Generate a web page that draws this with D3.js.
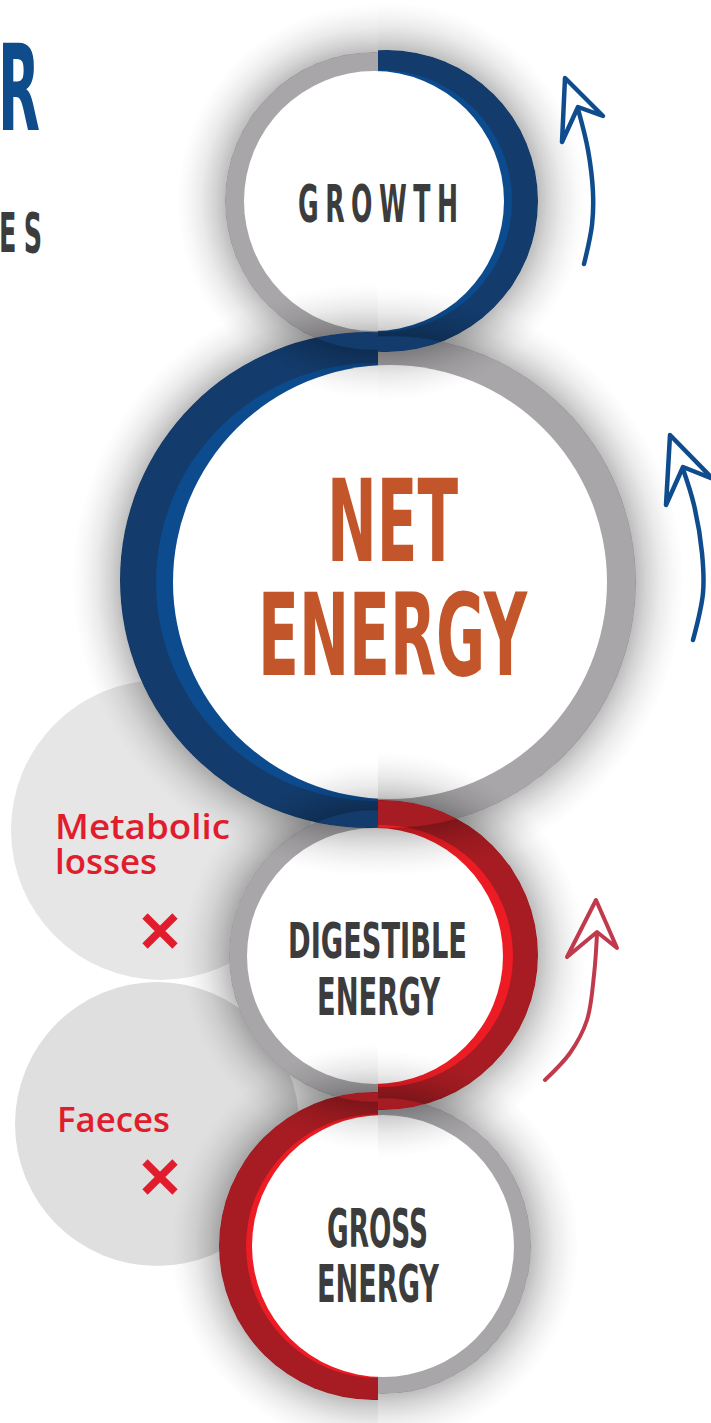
<!DOCTYPE html>
<html>
<head>
<meta charset="utf-8">
<script src="https://cdn.jsdelivr.net/npm/d3@7/dist/d3.min.js"></script>
<style>
  html, body { margin: 0; padding: 0; background: #fff; }
</style>
</head>
<body>
<div id="content"></div>
<script>
// stages from top to bottom
var stageLines = [["GROWTH"], ["NET", "ENERGY"], ["DIGESTIBLE", "ENERGY"], ["GROSS", "ENERGY"]];
var stageFlow = ["blue", "blue", "red", "red"];
var lossLines = [["Metabolic", "losses"], ["Faeces"]];
var titleBits = ["R", "ES"];

var width = 711, height = 1423, split = 378;
var condensed = "'Liberation Sans Narrow', 'DejaVu Sans Condensed', 'Roboto Condensed', sans-serif";

// geometry of each ring: white disc, grey ring, coloured crescent, light inner edge
var rings = [
  { white: [374, 201, 130], grey: [374, 201, 149], band: [387, 201, 151], light: [381, 201, 131], side: 'right' },
  { white: [390, 582, 217], grey: [390, 582, 246], band: [368, 580, 248], light: [375, 582, 219], side: 'left' },
  { white: [375, 956, 128], grey: [375, 956, 146], band: [383, 955, 155], light: [382, 956, 131], side: 'right' },
  { white: [383, 1246, 131], grey: [383, 1246, 148], band: [373, 1246, 154], light: [378, 1246, 132], side: 'left' }
];
var labelBoxes = [
  [{ x: 298, y: 222, w: 160, cap: 37, ls: 12, fill: '#3c3c3d' }],
  [{ x: 327, y: 561, w: 131, cap: 82, fill: '#c3552a' }, { x: 258, y: 675, w: 269, cap: 82, fill: '#c3552a' }],
  [{ x: 288, y: 958, w: 179, cap: 36, fill: '#3c3c3d' }, { x: 317, y: 1015, w: 123, cap: 37, fill: '#3c3c3d' }],
  [{ x: 327, y: 1247, w: 101, cap: 38, fill: '#3c3c3d' }, { x: 317, y: 1302, w: 122, cap: 37, fill: '#3c3c3d' }]
];
var colours = {
  blue: { dark: '#133c6d', light: '#0c4b8e', arrow: '#0f4c8d' },
  red: { dark: '#a61c22', light: '#ed1c24', arrow: '#c03a4b' }
};
var lossDiscs = [[161, 830, 150, '#e6e6e7'], [157, 1124, 142, '#dfdfe0']];
var lossBoxes = [
  [{ x: 55, y: 839, w: 175, cap: 24 }, { x: 55, y: 874, w: 102, cap: 24 }],
  [{ x: 57, y: 1132, w: 113, cap: 25 }]
];
var crosses = [[160, 931], [160, 1177]];

var arrows = [
  { flow: 'blue', head: [[565, 78], [603, 116], [578, 107], [562, 142]],
    shaft: [[578, 109], [588, 150], [593, 193], [592, 225], [584, 264]] },
  { flow: 'blue', head: [[670, 435], [713, 479], [683, 467], [666, 505]],
    shaft: [[683, 469], [694, 505], [702, 553], [703, 593], [693, 640]] },
  { flow: 'red', head: [[596, 900], [617, 948], [597, 932], [567, 957]],
    shaft: [[597, 934], [594, 975], [587, 1020], [570, 1053], [545, 1080]] }
];

var svg = d3.select('#content').append('svg').attr('width', width).attr('height', height)
  .style('display', 'block')
var defs = svg.append('defs')

defs.append('clipPath').attr('id', 'half-right').append('rect')
  .attr('x', split).attr('y', 0).attr('width', width - split).attr('height', height)
defs.append('clipPath').attr('id', 'half-left').append('rect')
  .attr('x', 0).attr('y', 0).attr('width', split).attr('height', height)

function circle(g, c, fill) {
  return g.append('circle').attr('cx', c[0]).attr('cy', c[1]).attr('r', c[2]).attr('fill', fill)
}

function fitText(g, str, o) {
  var ls = o.ls || 0
  var t = g.append('text').text(str)
    .attr('font-family', o.font).attr('font-weight', o.weight)
    .attr('font-size', o.cap / 0.716).attr('letter-spacing', ls)
    .attr('fill', o.fill)
  var w = t.node().getComputedTextLength() - ls
  t.attr('transform', 'translate(' + o.x + ',' + o.y + ') scale(' + (o.w / w) + ',1)')
  return t
}

var halfCount = 0
function halo(g, c, side) {
  var R = c[2], H = R + 48, id = 'halo' + (halfCount++)
  var grad = defs.append('radialGradient').attr('id', id)
    .attr('gradientUnits', 'userSpaceOnUse')
    .attr('cx', c[0]).attr('cy', c[1]).attr('r', H)
  var stops = [[R - 1, 0], [R + 0.5, 0.25], [R + 10, 0.17], [R + 24, 0.08], [R + 38, 0.025], [H, 0]]
  grad.selectAll('stop').data(stops).enter().append('stop')
    .attr('offset', function(d){ return d[0] / H })
    .attr('stop-color', '#000')
    .attr('stop-opacity', function(d){ return d[1] })
  g.append('circle').attr('cx', c[0]).attr('cy', c[1]).attr('r', H)
    .attr('fill', 'url(#' + id + ')')
    .attr('clip-path', 'url(#half-' + side + ')')
}

// loss discs behind everything
var back = svg.append('g')
lossDiscs.forEach(function(d){ circle(back, d, d[3]) })

// grey rings
var greys = svg.append('g')
rings.forEach(function(r){ circle(greys, r.grey, '#a8a6a9') })

// coloured crescents
var bands = svg.append('g')
rings.forEach(function(r, i){
  var c = colours[stageFlow[i]]
  var g = bands.append('g').attr('clip-path', 'url(#half-' + r.side + ')')
  circle(g, r.band, c.dark)
  circle(g, r.light, c.light)
})

// white discs
var whites = svg.append('g')
rings.forEach(function(r){ circle(whites, r.white, '#ffffff') })

// soft shadows laid over neighbours, one per half so they hug each edge
var halos = svg.append('g')
rings.forEach(function(r){
  var other = r.side === 'right' ? 'left' : 'right'
  halo(halos, r.band, r.side)
  halo(halos, r.grey, other)
})

// stage labels
var labels = svg.append('g')
stageLines.forEach(function(lines, i){
  lines.forEach(function(str, j){
    var b = labelBoxes[i][j]
    fitText(labels, str, { x: b.x, y: b.y, w: b.w, cap: b.cap, ls: b.ls, fill: b.fill,
      font: condensed, weight: 700 })
  })
})

// losses
lossLines.forEach(function(lines, i){
  lines.forEach(function(str, j){
    var b = lossBoxes[i][j]
    fitText(labels, str, { x: b.x, y: b.y, w: b.w, cap: b.cap, fill: '#e11d2d',
      font: "'Open Sans', 'Noto Sans', sans-serif", weight: 600 })
  })
})

var cross = svg.append('g').attr('stroke', '#e11d2d').attr('stroke-width', 7.5)
crosses.forEach(function(c){
  cross.append('path')
    .attr('d', 'M' + (c[0] - 15) + ',' + (c[1] - 15) + 'L' + (c[0] + 15) + ',' + (c[1] + 15) +
      'M' + (c[0] + 15) + ',' + (c[1] - 15) + 'L' + (c[0] - 15) + ',' + (c[1] + 15))
})

// title fragments cut by the left edge
fitText(labels, titleBits[0], { x: -2, y: 130, w: 42, cap: 85, fill: '#0e4c8c', font: condensed, weight: 700 })
fitText(labels, titleBits[1], { x: -1, y: 252, w: 43, cap: 39, ls: 14, fill: '#3c3c3d', font: condensed, weight: 700 })

// arrows
var shaftLine = d3.line().curve(d3.curveCatmullRom)
var headLine = d3.line().curve(d3.curveLinearClosed)
var arrowG = svg.append('g').attr('fill', 'none')
  .attr('stroke-linecap', 'round').attr('stroke-linejoin', 'round')
arrows.forEach(function(a){
  var col = colours[a.flow].arrow
  var sw = a.flow === 'blue' ? 4.5 : 4
  arrowG.append('path').attr('d', headLine(a.head)).attr('stroke', col).attr('stroke-width', sw)
  arrowG.append('path').attr('d', shaftLine(a.shaft)).attr('stroke', col).attr('stroke-width', sw)
})
</script>
</body>
</html>
